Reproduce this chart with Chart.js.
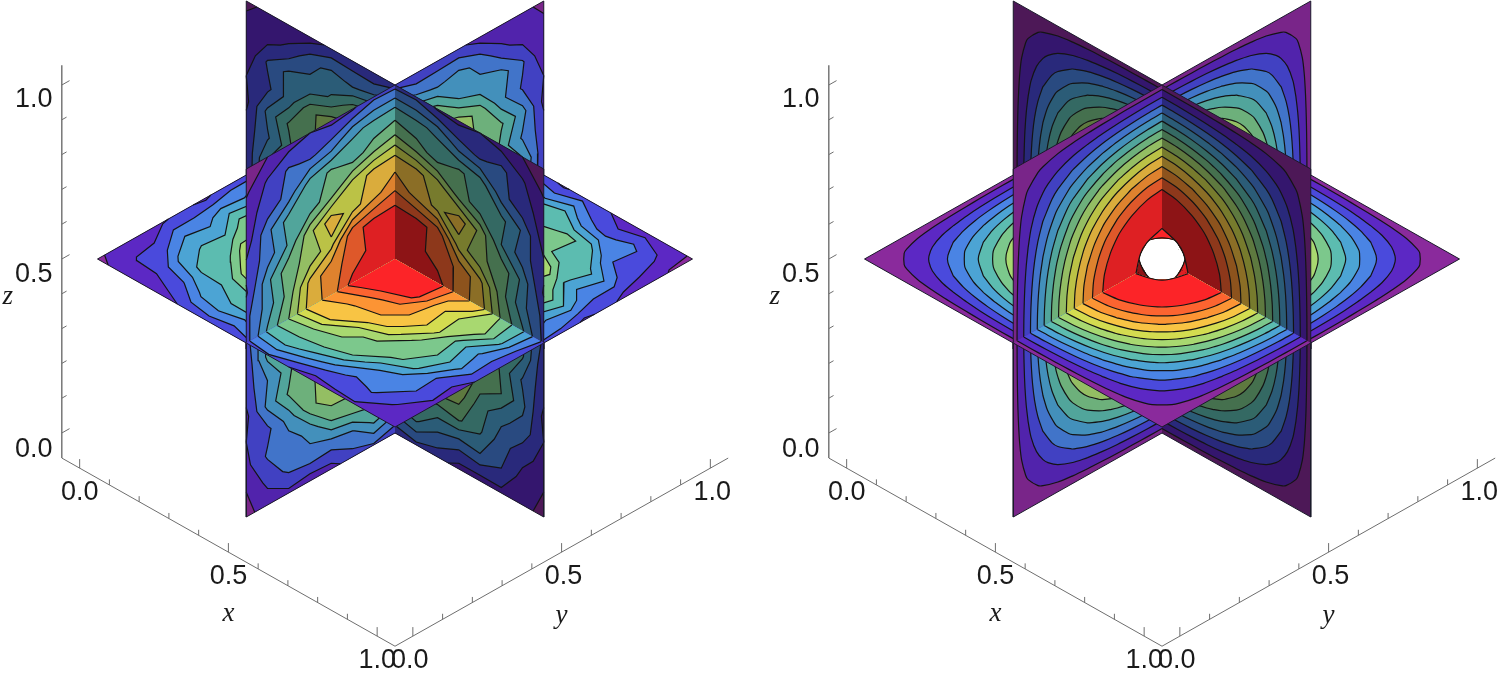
<!DOCTYPE html>
<html>

<head>
	<meta charset="utf-8">
	<title>Contour slices: simulation and exact solution</title>
	<style>
		html, body { margin: 0; padding: 0; background: #fff; }
		canvas { position: absolute; top: 0; }
		#simChart { left: 0; }
		#exactChart { left: 767px; }
	</style>
</head>

<body>
	<canvas id="simChart" width="767" height="673"></canvas>
	<canvas id="exactChart" width="733" height="673"></canvas>

	<script src="https://cdn.jsdelivr.net/npm/chart.js@4/dist/chart.umd.min.js"></script>
	<script type="text/javascript">
		// contour levels (percent of peak) and band colours from the outside in
		const levels = [4, 11, 18, 25, 32, 39, 46, 53, 60, 67, 74, 81];
		const holeLevel = 96;
		const bandColors = ['#8a2a9c', '#5c28c4', '#4a4adc', '#4a84e4', '#4ca4d4', '#5cbcb0', '#7cc88c',
			'#a8d870', '#d4dc50', '#f8c444', '#fc9434', '#fc6430', '#fc2428'];

		const tickValues = [0, 0.1, 0.2, 0.3, 0.4, 0.5, 0.6, 0.7, 0.8, 0.9, 1];
		const tickLabels = ['0.0', '0.5', '1.0'];
		const labelValues = [0, 0.5, 1];

		// left panel, values, 15 x 15 nodes
		// x = 0.5 slice: rows go z 0..1, columns y 0..1
		const simXPlane = [
			[2, 7, 9, 6, 8, 15, 17, 13, 12, 9, 14, 13, 6, 3, 3],
			[4, 13, 20, 23, 21, 24, 34, 29, 27, 31, 28, 17, 13, 13, 7],
			[9, 19, 22, 27, 40, 44, 43, 50, 49, 36, 33, 36, 28, 13, 6],
			[11, 16, 28, 44, 51, 48, 55, 57, 62, 56, 43, 35, 34, 24, 8],
			[9, 27, 40, 43, 56, 66, 73, 76, 65, 58, 64, 51, 32, 21, 13],
			[14, 25, 36, 56, 65, 71, 77, 80, 83, 79, 57, 47, 44, 30, 10],
			[12, 34, 50, 54, 65, 84, 90, 92, 84, 77, 73, 62, 42, 27, 15],
			[15, 33, 46, 63, 70, 84, 89, 96, 93, 78, 75, 58, 51, 30, 13],
			[16, 28, 42, 62, 72, 76, 84, 89, 90, 83, 65, 54, 50, 34, 12],
			[10, 30, 44, 48, 58, 79, 83, 83, 76, 71, 65, 56, 36, 24, 14],
			[13, 21, 33, 51, 64, 57, 65, 71, 72, 65, 56, 43, 40, 28, 9],
			[7, 23, 35, 35, 44, 56, 62, 63, 54, 49, 51, 43, 27, 17, 11],
			[9, 13, 21, 35, 40, 36, 42, 46, 50, 43, 32, 27, 28, 19, 5],
			[3, 12, 19, 17, 21, 31, 33, 34, 27, 24, 27, 23, 13, 8, 6],
			[1, 4, 8, 11, 9, 10, 16, 15, 11, 14, 13, 7, 5, 6, 2]
		];
		// y = 0.5 slice: rows go z 0..1, columns x 0..1
		const simYPlane = [
			[3, 4, 6, 11, 13, 9, 11, 13, 16, 14, 8, 7, 9, 6, 2],
			[6, 8, 18, 24, 26, 23, 27, 29, 33, 25, 21, 24, 18, 8, 4],
			[6, 18, 27, 35, 32, 36, 50, 50, 42, 37, 40, 33, 21, 14, 8],
			[8, 23, 34, 35, 43, 56, 62, 57, 55, 55, 50, 35, 27, 22, 11],
			[12, 21, 31, 50, 64, 57, 65, 76, 73, 64, 56, 43, 39, 27, 9],
			[10, 30, 44, 48, 57, 79, 84, 80, 76, 71, 65, 56, 37, 24, 14],
			[15, 27, 42, 62, 74, 76, 84, 92, 90, 83, 65, 54, 50, 33, 12],
			[12, 35, 49, 59, 75, 78, 93, 96, 90, 85, 70, 64, 45, 33, 16],
			[12, 33, 50, 54, 65, 84, 90, 89, 84, 77, 73, 62, 42, 27, 16],
			[14, 24, 36, 56, 65, 71, 76, 83, 83, 79, 57, 47, 44, 30, 10],
			[9, 27, 40, 43, 56, 66, 72, 71, 65, 58, 64, 51, 32, 21, 13],
			[11, 16, 28, 44, 51, 48, 54, 63, 62, 56, 43, 35, 34, 24, 8],
			[5, 19, 27, 27, 33, 44, 50, 46, 42, 36, 40, 36, 21, 13, 9],
			[7, 8, 13, 23, 27, 24, 27, 34, 33, 31, 21, 17, 20, 12, 3],
			[2, 6, 5, 7, 13, 14, 11, 15, 16, 10, 9, 11, 8, 4, 1]
		];
		// z = 0.5 slice: rows go y 0..1, columns x 0..1
		const simZPlane = [
			[3, 5, 4, 8, 12, 14, 12, 15, 17, 11, 7, 10, 10, 5, 5],
			[6, 12, 13, 17, 27, 30, 26, 33, 35, 29, 22, 16, 19, 12, 4],
			[5, 14, 28, 34, 33, 37, 48, 46, 43, 44, 39, 27, 20, 18, 9],
			[10, 24, 33, 35, 50, 55, 54, 63, 61, 48, 44, 42, 34, 17, 8],
			[13, 22, 32, 51, 63, 57, 72, 70, 66, 65, 57, 43, 39, 27, 12],
			[9, 29, 44, 47, 58, 79, 78, 84, 76, 71, 65, 55, 36, 24, 13],
			[15, 26, 43, 62, 73, 75, 85, 89, 91, 84, 64, 53, 50, 33, 11],
			[12, 35, 49, 59, 75, 78, 93, 96, 90, 85, 70, 64, 45, 33, 16],
			[13, 34, 49, 53, 66, 85, 89, 93, 83, 76, 74, 63, 41, 26, 16],
			[14, 23, 37, 57, 64, 70, 83, 78, 77, 80, 56, 46, 45, 31, 9],
			[9, 28, 39, 42, 57, 67, 66, 75, 72, 57, 65, 52, 31, 20, 14],
			[12, 15, 29, 45, 50, 47, 60, 58, 55, 57, 42, 34, 35, 23, 7],
			[5, 20, 26, 27, 34, 45, 43, 51, 49, 35, 41, 37, 20, 12, 10],
			[8, 7, 14, 24, 26, 23, 33, 30, 26, 32, 20, 16, 21, 13, 3],
			[2, 6, 9, 5, 10, 14, 13, 13, 10, 15, 12, 6, 8, 7, 3]
		];

		// right panel: one quarter of a slice, centre at top left, edge of slice at last row/col
		const exactQuarter = [
			[100, 98.8, 95.1, 89.1, 80.9, 70.7, 58.8, 45.4, 30.9, 15.6, 0],
			[98.8, 97.6, 94, 88, 79.9, 69.9, 58.1, 44.9, 30.5, 15.4, 0],
			[95.1, 94, 90.4, 84.7, 76.9, 67.2, 55.9, 43.2, 29.4, 14.8, 0],
			[89.1, 88, 84.7, 79.4, 72.1, 63, 52.4, 40.5, 27.5, 13.9, 0],
			[80.9, 79.9, 76.9, 72.1, 65.5, 57.2, 47.6, 36.7, 25, 12.6, 0],
			[70.7, 69.9, 67.2, 63, 57.2, 50, 41.6, 32.1, 21.8, 11, 0],
			[58.8, 58.1, 55.9, 52.4, 47.6, 41.6, 34.6, 26.7, 18.2, 9.2, 0],
			[45.4, 44.9, 43.2, 40.5, 36.7, 32.1, 26.7, 20.6, 14, 7.1, 0],
			[30.9, 30.5, 29.4, 27.5, 25, 21.8, 18.2, 14, 9.5, 4.8, 0],
			[15.6, 15.4, 14.8, 13.9, 12.6, 11, 9.2, 7.1, 4.8, 2.4, 0],
			[0, 0, 0, 0, 0, 0, 0, 0, 0, 0, 0]
		];

		// box the axes are drawn on, a bit larger than the unit cube
		const boxLow = -0.06, boxHigh = 1.06, boxFloor = -0.072, boxTop = 1.057;

		// pixels per projected unit, and where the cube centre sits
		const scaleX = 297.5, scaleY = 348, skew = 168 / 348, centerX = 395, centerY = 259, chartH = 673;

		function project(x, y, z) {
			return { x: (x - 0.5) + (y - 0.5), y: (z - 0.5) - skew * (x - y) };
		}

		function shade(hex, f) {
			const n = parseInt(hex.slice(1), 16);
			return 'rgb(' + Math.round((n >> 16) * f) + ',' + Math.round(((n >> 8) & 255) * f) + ',' + Math.round((n & 255) * f) + ')';
		}

		// mirror the quarter into a full slice
		function fullSlice(quarter) {
			const m = quarter.length - 1;
			const rows = [];
			for (let i = -m; i <= m; i++) {
				const row = [];
				for (let j = -m; j <= m; j++) row.push(quarter[Math.abs(i)][Math.abs(j)]);
				rows.push(row);
			}
			return rows;
		}

		// closed outlines of the region value >= level on a sub grid.
		// the grid is padded with "outside" nodes so regions close along its border
		function regionLoops(sub, level) {
			const R = sub.length, C = sub[0].length;
			const val = (i, j) => (i < 0 || j < 0 || i >= R || j >= C) ? -Infinity : sub[i][j];
			const next = new Map(), pos = new Map();
			for (let i = -1; i < R; i++) {
				for (let j = -1; j < C; j++) {
					const corners = [[i, j], [i, j + 1], [i + 1, j + 1], [i + 1, j]];
					const inside = corners.map(c => val(c[0], c[1]) >= level);
					const edgeKey = k => {
						const a = corners[k], b = corners[(k + 1) % 4];
						const key = a[0] < b[0] || (a[0] === b[0] && a[1] < b[1]) ? a.concat(b) : b.concat(a);
						return key.join(',');
					};
					const edgePoint = k => {
						let a = corners[k], b = corners[(k + 1) % 4];
						if (val(a[0], a[1]) < level) { const t = a; a = b; b = t; }
						const va = val(a[0], a[1]), vb = val(b[0], b[1]);
						const t = vb === -Infinity ? 0 : (va - level) / (va - vb);
						return { i: a[0] + (b[0] - a[0]) * t, j: a[1] + (b[1] - a[1]) * t };
					};
					for (let k = 0; k < 4; k++) {
						if (!inside[k] && inside[(k + 1) % 4]) {
							let m = (k + 1) % 4;
							while (inside[(m + 1) % 4]) m = (m + 1) % 4;
							next.set(edgeKey(k), edgeKey(m));
							pos.set(edgeKey(k), edgePoint(k));
							pos.set(edgeKey(m), edgePoint(m));
						}
					}
				}
			}
			const loops = [];
			const seen = new Set();
			for (const start of next.keys()) {
				if (seen.has(start)) continue;
				const loop = [];
				let key = start;
				while (key !== undefined && !seen.has(key)) {
					seen.add(key);
					loop.push(pos.get(key));
					key = next.get(key);
				}
				if (loop.length > 2) loops.push(loop);
			}
			return loops;
		}

		// start a loop at the point nearest to the node (ci, cj)
		function rotateTo(loop, ci, cj) {
			let best = 0, bestD = Infinity;
			loop.forEach((p, idx) => {
				const d = (p.i - ci) * (p.i - ci) + (p.j - cj) * (p.j - cj);
				if (d < bestD) { bestD = d; best = idx; }
			});
			return loop.slice(best).concat(loop.slice(0, best + 1));
		}

		// cut a closed loop into open runs, leaving out what lies on the grid border
		function openRuns(loop, last) {
			const onBorder = (a, b) => (a.i === b.i && (a.i === 0 || a.i === last)) || (a.j === b.j && (a.j === 0 || a.j === last));
			const n = loop.length;
			let first = -1;
			for (let k = 0; k < n; k++) {
				if (onBorder(loop[k], loop[(k + 1) % n])) { first = k; break; }
			}
			if (first < 0) return [loop.concat([loop[0]])];
			const runs = [];
			let run = [];
			for (let s = 1; s <= n; s++) {
				const k = (first + s) % n;
				const a = loop[k], b = loop[(k + 1) % n];
				if (onBorder(a, b)) {
					if (run.length) { run.push(a); runs.push(run); run = []; }
				} else {
					run.push(a);
				}
			}
			return runs;
		}

		const planeMaps = {
			x: (r, c) => [0.5, c, r],
			y: (r, c) => [c, 0.5, r],
			z: (r, c) => [c, r, 0.5]
		};
		const planeShade = { x: 0.88, y: 0.56, z: 1 };

		function lineSet(data, color, width, tension) {
			return { data: data, showLine: true, borderColor: color, borderWidth: width, pointRadius: 0, fill: false, clip: false, tension: tension || 0 };
		}

		function quadrantSets(name, grid, rowHalf, colHalf, smooth) {
			const n = grid.length, mid = (n - 1) / 2;
			const r0 = rowHalf ? mid : 0, c0 = colHalf ? mid : 0;
			const sub = grid.slice(r0, r0 + mid + 1).map(row => row.slice(c0, c0 + mid + 1));
			const ci = rowHalf ? 0 : mid, cj = colHalf ? 0 : mid;
			const map = planeMaps[name];
			const toXY = p => {
				const q = map((r0 + p.i) / (n - 1), (c0 + p.j) / (n - 1));
				return project(q[0], q[1], q[2]);
			};
			const sets = [];
			let hole = null;
			if (smooth) hole = rotateTo(regionLoops(sub, holeLevel)[0], ci, cj).reverse();

			const allLevels = [-1].concat(levels);
			allLevels.forEach((lv, idx) => {
				const color = shade(bandColors[idx], planeShade[name]);
				regionLoops(sub, lv).forEach(loop => {
					let shape = loop;
					if (hole) shape = rotateTo(loop, ci, cj).concat(hole);
					sets.push({ data: shape.map(toXY), showLine: true, borderWidth: 0, pointRadius: 0,
						fill: 'shape', backgroundColor: color, clip: false });
				});
			});

			// contour lines, skipping the parts that run along the quadrant border
			const lineLevels = smooth ? levels.concat([holeLevel]) : levels;
			lineLevels.forEach(lv => {
				regionLoops(sub, lv).forEach(loop => {
					openRuns(loop, mid).forEach(run => {
						sets.push(lineSet(run.map(toXY), '#141414', 1.2, smooth ? 0.3 : 0));
					});
				});
			});

			// outer edges of the quadrant
			const far = { i: rowHalf ? mid : 0, j: colHalf ? mid : 0 };
			const edge = [{ i: ci, j: far.j }, far, { i: far.i, j: cj }].map(toXY);
			sets.push(lineSet(edge, '#1a1a2a', 1));
			return sets;
		}

		function axisSets() {
			const gray = '#6e6e6e';
			const sets = [];
			sets.push(lineSet([project(boxLow, boxLow, boxFloor), project(boxLow, boxLow, boxTop)], gray, 1.4));
			sets.push(lineSet([project(boxLow, boxLow, boxFloor), project(boxHigh, boxLow, boxFloor)], gray, 1));
			sets.push(lineSet([project(boxHigh, boxLow, boxFloor), project(boxHigh, boxHigh, boxFloor)], gray, 1));
			tickValues.forEach(t => {
				const major = labelValues.includes(t);
				const up = major ? 0.026 : 0.016;
				sets.push(lineSet([project(t, boxLow, boxFloor), project(t, boxLow, boxFloor + up)], gray, 1));
				sets.push(lineSet([project(boxHigh, t, boxFloor), project(boxHigh, t, boxFloor + up)], gray, 1));
				const out = major ? 0.026 : 0.016;
				sets.push(lineSet([project(boxLow, boxLow, t), project(boxLow, boxLow + out, t)], gray, 1));
			});
			return sets;
		}

		// tick labels and axis names, placed through the chart's own scales
		const axisText = {
			id: 'axisText',
			afterDatasetsDraw(chart) {
				const ctx = chart.ctx;
				const put = (text, p, dx, dy, font) => {
					ctx.font = font;
					ctx.fillStyle = '#1a1a1a';
					ctx.textAlign = 'center';
					ctx.textBaseline = 'middle';
					ctx.fillText(text, chart.scales.x.getPixelForValue(p.x) + dx, chart.scales.y.getPixelForValue(p.y) + dy);
				};
				const numFont = '27px "Liberation Sans"';
				const nameFont = 'italic 27px "Liberation Serif"';
				const zShift = [17, 16, 15];
				const zLeft = -28;
				labelValues.forEach((t, i) => {
					put(tickLabels[i], project(t, boxLow, boxFloor), 0, 24, numFont);
					put(tickLabels[i], project(boxHigh, t, boxFloor), i === 0 ? -3 : 2, 24, numFont);
					put(tickLabels[i], project(boxLow, boxLow, t), zLeft, zShift[i], numFont);
				});
				put('x', project(0.5, boxLow, boxFloor), 0, 62, nameFont);
				put('y', project(boxHigh, 0.5, boxFloor), 0, 64, nameFont);
				put('z', project(boxLow, boxLow, 0.5), -54, 38, nameFont);
			}
		};

		function drawPanel(id, slices, smooth) {
			const canvas = document.getElementById(id);
			let sets = [];
			const quads = [];
			['x', 'y', 'z'].forEach(name => {
				[0, 1].forEach(r => {
					[0, 1].forEach(c => {
						const q = planeMaps[name](r * 0.5 + 0.25, c * 0.5 + 0.25);
						quads.push({ name: name, r: r, c: c, depth: q[0] - q[1] + q[2] });
					});
				});
			});
			quads.sort((a, b) => a.depth - b.depth);
			quads.forEach(q => {
				sets = sets.concat(quadrantSets(q.name, slices[q.name], q.r, q.c, smooth));
			});
			sets = sets.concat(axisSets());
			sets.forEach((s, i) => { s.order = sets.length - i; });

			new Chart(canvas.getContext('2d'), {
				type: 'scatter',
				data: { datasets: sets },
				options: {
					responsive: false,
					animation: false,
					events: [],
					devicePixelRatio: 1,
					layout: { padding: 0 },
					plugins: { legend: { display: false }, tooltip: { enabled: false } },
					scales: {
						x: { type: 'linear', display: false, min: -centerX / scaleX, max: (canvas.width - centerX) / scaleX },
						y: { type: 'linear', display: false, min: (centerY - chartH) / scaleY, max: centerY / scaleY }
					}
				},
				plugins: [axisText]
			});
		}

		drawPanel('simChart', { x: simXPlane, y: simYPlane, z: simZPlane }, false);
		const exactSlice = fullSlice(exactQuarter);
		drawPanel('exactChart', { x: exactSlice, y: exactSlice, z: exactSlice }, true);
	</script>
</body>

</html>
